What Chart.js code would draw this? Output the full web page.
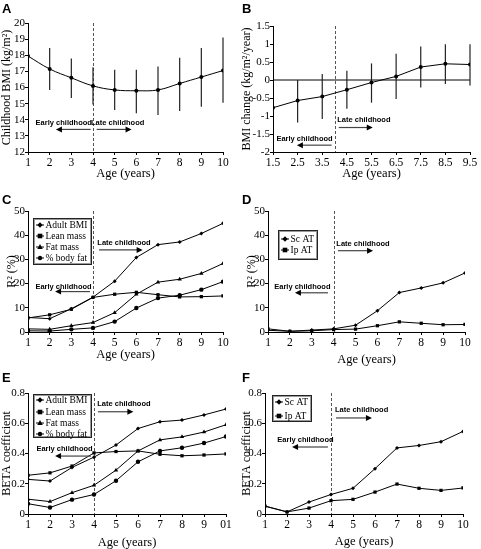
<!DOCTYPE html>
<html>
<head>
<meta charset="utf-8">
<script src="https://cdn.jsdelivr.net/npm/chart.js@4.4.0/dist/chart.umd.min.js"></script>
<style>
  body { margin: 0; background: #fff; width: 481px; height: 549px; position: relative; overflow: hidden; }
  canvas { position: absolute; }
</style>
</head>
<body>
<canvas id="cA" width="240" height="185" style="left:0;top:0"></canvas>
<canvas id="cB" width="241" height="185" style="left:240px;top:0"></canvas>
<canvas id="cC" width="240" height="185" style="left:0;top:180px"></canvas>
<canvas id="cD" width="241" height="190" style="left:240px;top:180px"></canvas>
<canvas id="cE" width="240" height="192" style="left:0;top:360px"></canvas>
<canvas id="cF" width="241" height="192" style="left:240px;top:360px"></canvas>
<script>
// ages and tick labels
var ages = [1, 2, 3, 4, 5, 6, 7, 8, 9, 10];
var ageLabelsE = ['1', '2', '3', '4', '5', '6', '7', '8', '9', '01'];
var changeAges = [1.5, 2.5, 3.5, 4.5, 5.5, 6.5, 7.5, 8.5, 9.5];

// A - childhood BMI (mean, error bar ends)
var bmiMean = [17.95, 17.15, 16.6, 16.1, 15.85, 15.8, 15.85, 16.25, 16.65, 17.05];
var bmiLow = [null, 15.85, 15.35, 14.95, 14.6, 14.4, 14.3, 14.55, 14.8, 15.05];
var bmiHigh = [null, 18.45, 17.8, 17.25, 17.1, 17.1, 17.3, 17.85, 18.45, 19.1];

// B - BMI change per year
var bmiChange = [-0.77, -0.57, -0.46, -0.27, -0.07, 0.10, 0.36, 0.45, 0.43];
var changeLow = [null, -1.18, -1.08, -0.80, -0.63, -0.53, -0.21, -0.11, -0.15];
var changeHigh = [null, 0.0, 0.17, 0.26, 0.46, 0.73, 0.93, 0.99, 0.99];

// C - R2 (%)
var adultBmiR2 = [6.0, 5.5, 9.6, 14.4, 21.0, 30.8, 36.1, 37.2, 40.7, 44.9];
var leanR2 = [5.8, 7.1, 9.4, 14.3, 15.6, 16.4, 15.4, 14.5, 14.6, 14.9];
var fatR2 = [1.3, 1.1, 2.6, 3.9, 8.0, 15.6, 20.6, 21.8, 24.2, 28.3];
var bodyFatR2 = [0.5, 0.4, 1.1, 1.7, 4.3, 9.9, 14.0, 15.2, 17.5, 20.8];

// D - R2 (%)
var scR2 = [0.7, 0.3, 0.8, 1.3, 2.8, 8.8, 16.3, 18.2, 20.3, 24.4];
var ipR2 = [1.3, 0.3, 0.5, 1.0, 1.2, 2.6, 4.2, 3.6, 3.0, 3.1];

// E - BETA coefficient
var adultBeta = [0.229, 0.218, 0.308, 0.376, 0.456, 0.565, 0.610, 0.621, 0.655, 0.694];
var leanBeta = [0.256, 0.272, 0.317, 0.404, 0.413, 0.417, 0.395, 0.385, 0.390, 0.397];
var fatBeta = [0.098, 0.082, 0.141, 0.190, 0.290, 0.417, 0.490, 0.510, 0.542, 0.590];
var bodyFatBeta = [0.068, 0.043, 0.095, 0.129, 0.220, 0.345, 0.417, 0.438, 0.469, 0.512];

// F - BETA coefficient
var scBeta = [0.052, 0.014, 0.079, 0.129, 0.170, 0.300, 0.437, 0.453, 0.478, 0.546];
var ipBeta = [0.052, 0.014, 0.039, 0.088, 0.097, 0.145, 0.198, 0.170, 0.156, 0.172];

Chart.defaults.font.family = "'Liberation Serif', 'Times New Roman', serif";
Chart.defaults.color = '#000';

function pts(xs, ys) {
  return xs.map(function (x, i) { return { x: x, y: ys[i] }; });
}

function series(label, xs, ys, style, r, tension) {
  return {
    label: label, data: pts(xs, ys), borderColor: '#000', backgroundColor: '#000',
    borderWidth: 1, pointStyle: style, pointRadius: r, pointBorderWidth: 0,
    tension: tension || 0
  };
}

function num(v) {
  return String(Math.round(v * 100) / 100);
}

// extra drawing per canvas: panel letter, split line, error bars, notes, legend box
var extras = {};

function marker(ctx, style, x, y, r) {
  ctx.beginPath();
  if (style === 'rect') {
    ctx.rect(x - r, y - r, 2 * r, 2 * r);
  } else if (style === 'rectRot') {
    var d = r * 1.35;
    ctx.moveTo(x, y - d); ctx.lineTo(x + d, y); ctx.lineTo(x, y + d); ctx.lineTo(x - d, y); ctx.closePath();
  } else if (style === 'triangle') {
    ctx.moveTo(x, y - r * 1.2); ctx.lineTo(x + r * 1.1, y + r * 0.8); ctx.lineTo(x - r * 1.1, y + r * 0.8); ctx.closePath();
  } else {
    ctx.arc(x, y, r, 0, Math.PI * 2);
  }
  ctx.fill();
}

function arrow(ctx, x1, x2, y) {
  var dir = x2 > x1 ? 1 : -1;
  ctx.strokeStyle = '#444'; ctx.lineWidth = 1.2;
  ctx.beginPath(); ctx.moveTo(x1, y); ctx.lineTo(x2 - dir * 5, y); ctx.stroke();
  ctx.fillStyle = '#000';
  ctx.beginPath(); ctx.moveTo(x2, y); ctx.lineTo(x2 - dir * 6, y - 3); ctx.lineTo(x2 - dir * 6, y + 3); ctx.closePath(); ctx.fill();
}

var decor = {
  id: 'decor',
  beforeDatasetsDraw: function (chart) {
    var e = extras[chart.canvas.id];
    var ctx = chart.ctx, a = chart.chartArea, x = chart.scales.x, y = chart.scales.y;
    ctx.save();
    if (e.zero) {
      var zy = y.getPixelForValue(0);
      ctx.strokeStyle = '#000'; ctx.lineWidth = 1;
      ctx.beginPath(); ctx.moveTo(a.left, zy); ctx.lineTo(a.right, zy); ctx.stroke();
    }
    var sx = Math.round(x.getPixelForValue(4)) + 0.5;
    ctx.strokeStyle = '#555'; ctx.lineWidth = 1; ctx.setLineDash([3, 2]);
    ctx.beginPath(); ctx.moveTo(sx, a.top); ctx.lineTo(sx, a.bottom); ctx.stroke();
    ctx.setLineDash([]);
    if (e.err) {
      ctx.strokeStyle = '#222'; ctx.lineWidth = 1.2;
      e.err.xs.forEach(function (xv, i) {
        if (e.err.low[i] == null) return;
        var px = x.getPixelForValue(xv);
        ctx.beginPath();
        ctx.moveTo(px, y.getPixelForValue(e.err.low[i]));
        ctx.lineTo(px, y.getPixelForValue(e.err.high[i]));
        ctx.stroke();
      });
    }
    ctx.restore();
  },
  afterDraw: function (chart) {
    var e = extras[chart.canvas.id];
    var ctx = chart.ctx, x = chart.scales.x, y = chart.scales.y;
    ctx.save();
    ctx.fillStyle = '#000';
    ctx.font = "bold 13px 'Liberation Sans', Arial, sans-serif";
    ctx.textAlign = 'left'; ctx.textBaseline = 'alphabetic';
    ctx.fillText(e.letter, 2, e.letterY);

    ctx.font = "bold 7.5px 'Liberation Sans', Arial, sans-serif";
    ctx.textAlign = 'center'; ctx.textBaseline = 'middle';
    e.notes.forEach(function (n) {
      ctx.fillStyle = '#000';
      ctx.fillText(n.text, x.getPixelForValue(n.x), y.getPixelForValue(n.y));
      arrow(ctx, x.getPixelForValue(n.from), x.getPixelForValue(n.to), y.getPixelForValue(n.ay));
    });

    if (e.legend) {
      var L = e.legend;
      ctx.fillStyle = '#fff';
      ctx.fillRect(L.x, L.y, L.w, L.h);
      ctx.strokeStyle = '#999'; ctx.lineWidth = 1;
      ctx.strokeRect(L.x + 1.5, L.y + 1.5, L.w - 3, L.h - 3);
      ctx.strokeStyle = '#222';
      ctx.strokeRect(L.x + 0.5, L.y + 0.5, L.w - 1, L.h - 1);
      ctx.font = "9.5px 'Liberation Serif', 'Times New Roman', serif";
      ctx.textAlign = 'left'; ctx.textBaseline = 'middle';
      chart.data.datasets.forEach(function (ds, i) {
        var ly = L.rows[i];
        ctx.strokeStyle = '#000'; ctx.lineWidth = 1;
        ctx.beginPath(); ctx.moveTo(L.x + 3, ly); ctx.lineTo(L.x + 11, ly); ctx.stroke();
        ctx.fillStyle = '#000';
        marker(ctx, ds.pointStyle, L.x + 7, ly, ds.pointRadius);
        ctx.fillText(ds.label, L.x + 12.5, ly + 0.5);
      });
    }
    ctx.restore();
  }
};

function panel(id, c) {
  extras[id] = c.extra;
  return new Chart(document.getElementById(id), {
    type: 'line',
    data: { datasets: c.datasets },
    options: {
      responsive: false,
      animation: false,
      layout: { padding: { top: c.top, right: c.right, left: 0, bottom: 0 } },
      plugins: { legend: { display: false }, tooltip: { enabled: false } },
      scales: {
        x: {
          type: 'linear', min: c.xMin, max: c.xMax,
          afterBuildTicks: function (s) { s.ticks = c.xTicks.map(function (v) { return { value: v }; }); },
          afterFit: function (s) { s.height = c.xH; },
          ticks: {
            autoSkip: false, maxRotation: 0, padding: 1, font: { size: 11.5 },
            callback: function (v, i) { return c.xLabels ? c.xLabels[i] : num(v); }
          },
          grid: { drawOnChartArea: false, tickLength: 3, color: '#000' },
          border: { color: '#000', width: 1 },
          title: { display: true, text: 'Age (years)', font: { size: 12.5 }, padding: { top: 0, bottom: c.xTitlePad } }
        },
        y: {
          min: c.yMin, max: c.yMax,
          afterFit: function (s) { s.width = c.yW; },
          ticks: { stepSize: c.yStep, autoSkip: false, padding: 0, font: { size: 11 }, callback: function (v) { return num(v); } },
          grid: { drawOnChartArea: false, tickLength: 3, color: '#000' },
          border: { color: '#000', width: 1 },
          title: { display: true, text: c.yTitle, font: { size: 12, lineHeight: 1 }, padding: { top: c.yTitlePad, bottom: 0 } }
        }
      }
    },
    plugins: [decor]
  });
}

panel('cA', {
  datasets: [series('Childhood BMI', ages, bmiMean, 'circle', 2, 0.4)],
  xMin: 1, xMax: 10, xTicks: ages, yMin: 12, yMax: 20, yStep: 1,
  top: 23, right: 17, yW: 28, xH: 33, xTitlePad: 4, yTitlePad: 1,
  yTitle: 'Childhood BMI (kg/m²)',
  extra: {
    letter: 'A', letterY: 13,
    err: { xs: ages, low: bmiLow, high: bmiHigh },
    notes: [
      { text: 'Early childhood', x: 2.65, y: 13.8, from: 3.89, to: 2.29, ay: 13.4 },
      { text: 'Late childhood', x: 5.14, y: 13.8, from: 4.17, to: 5.78, ay: 13.4 }
    ]
  }
});

panel('cB', {
  datasets: [series('BMI change', changeAges, bmiChange, 'circle', 2)],
  xMin: 1.5, xMax: 9.5, xTicks: changeAges, yMin: -2, yMax: 1.5, yStep: 0.5,
  top: 26, right: 11, yW: 33, xH: 33, xTitlePad: 3.5, yTitlePad: 1,
  yTitle: 'BMI change (kg/m²/year)',
  extra: {
    letter: 'B', letterY: 13, zero: true,
    err: { xs: changeAges, low: changeLow, high: changeHigh },
    notes: [
      { text: 'Late childhood', x: 5.19, y: -1.11, from: 4.17, to: 5.55, ay: -1.32 },
      { text: 'Early childhood', x: 2.78, y: -1.64, from: 3.88, to: 2.47, ay: -1.81 }
    ]
  }
});

panel('cC', {
  datasets: [
    series('Adult BMI', ages, adultBmiR2, 'rectRot', 2),
    series('Lean mass', ages, leanR2, 'rect', 2.3),
    series('Fat mass', ages, fatR2, 'triangle', 2.5),
    series('% body fat', ages, bodyFatR2, 'circle', 2.2)
  ],
  xMin: 1, xMax: 10, xTicks: ages, yMin: 0, yMax: 50, yStep: 10,
  top: 31, right: 17, yW: 28, xH: 33, xTitlePad: 2.8, yTitlePad: 6,
  yTitle: 'R² (%)',
  extra: {
    letter: 'C', letterY: 24,
    notes: [
      { text: 'Late childhood', x: 5.43, y: 36.7, from: 4.28, to: 6.29, ay: 33.9 },
      { text: 'Early childhood', x: 2.64, y: 18.7, from: 3.86, to: 2.25, ay: 16.7 }
    ],
    legend: { x: 33, y: 38, w: 59, h: 47, rows: [45, 56, 67, 78] }
  }
});

panel('cD', {
  datasets: [
    series('Sc AT', ages, scR2, 'rectRot', 2),
    series('Ip AT', ages, ipR2, 'rect', 2.3)
  ],
  xMin: 1, xMax: 10, xTicks: ages, yMin: 0, yMax: 50, yStep: 10,
  top: 31, right: 16, yW: 28, xH: 38, xTitlePad: 2.8, yTitlePad: 6,
  yTitle: 'R² (%)',
  extra: {
    letter: 'D', letterY: 24,
    notes: [
      { text: 'Late childhood', x: 5.34, y: 36.5, from: 4.2, to: 5.8, ay: 33.6 },
      { text: 'Early childhood', x: 2.57, y: 18.7, from: 3.74, to: 2.23, ay: 16.2 }
    ],
    legend: { x: 38, y: 50, w: 40, h: 30, rows: [59, 70] }
  }
});

panel('cE', {
  datasets: [
    series('Adult BMI', ages, adultBeta, 'rectRot', 2),
    series('Lean mass', ages, leanBeta, 'rect', 2.3),
    series('Fat mass', ages, fatBeta, 'triangle', 2.5),
    series('% body fat', ages, bodyFatBeta, 'circle', 2.2)
  ],
  xMin: 1, xMax: 10, xTicks: ages, xLabels: ageLabelsE, yMin: 0, yMax: 0.8, yStep: 0.2,
  top: 33, right: 14, yW: 28, xH: 38, xTitlePad: 2.1, yTitlePad: 1,
  yTitle: 'BETA coefficient',
  extra: {
    letter: 'E', letterY: 21.7,
    notes: [
      { text: 'Late childhood', x: 5.36, y: 0.725, from: 4.18, to: 5.79, ay: 0.676 },
      { text: 'Early childhood', x: 2.66, y: 0.43, from: 3.86, to: 2.23, ay: 0.383 }
    ],
    legend: { x: 33, y: 34, w: 59, h: 44, rows: [40, 52, 63, 74] }
  }
});

panel('cF', {
  datasets: [
    series('Sc AT', ages, scBeta, 'rectRot', 2),
    series('Ip AT', ages, ipBeta, 'rect', 2.3)
  ],
  xMin: 1, xMax: 10, xTicks: ages, yMin: 0, yMax: 0.8, yStep: 0.2,
  top: 33, right: 18, yW: 25, xH: 38, xTitlePad: 3.1, yTitlePad: 1,
  yTitle: 'BETA coefficient',
  extra: {
    letter: 'F', letterY: 21.7,
    notes: [
      { text: 'Late childhood', x: 5.39, y: 0.687, from: 4.23, to: 5.86, ay: 0.635 },
      { text: 'Early childhood', x: 2.84, y: 0.489, from: 3.86, to: 2.23, ay: 0.443 }
    ],
    legend: { x: 32, y: 35, w: 40, h: 27, rows: [42, 56] }
  }
});
</script>
</body>
</html>
